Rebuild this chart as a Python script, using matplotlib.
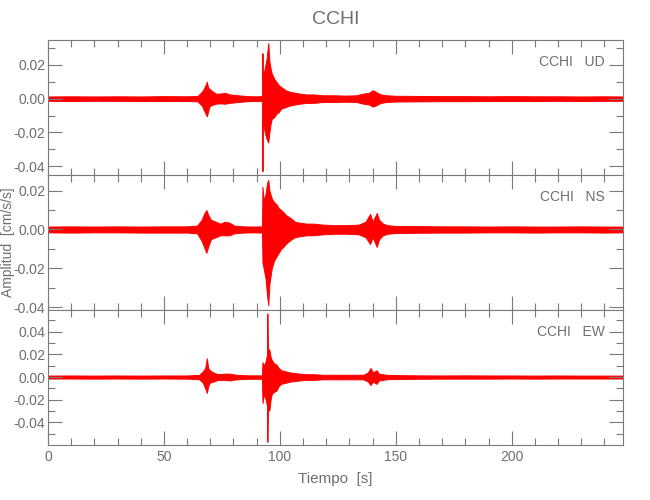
import numpy as np
import matplotlib
matplotlib.use("Agg")
import matplotlib.pyplot as plt
from matplotlib.ticker import MultipleLocator, FormatStrFormatter

station = "CCHI"
components = ["UD", "NS", "EW"]

# envelope of each trace (time [s], upper and lower amplitude [cm/s/s])
ud_t = [0, 10, 20, 30, 40, 50, 60, 64.5, 66.3, 67.3, 68.5, 69, 69.5, 70.3, 72.3, 74.3, 76.3,
        78.3, 82, 86, 90, 92.3, 92.5, 92.65, 92.9, 93.5, 94.3, 95.0, 95.5, 96, 96.5, 97.5,
        98.5, 99.5, 100.5, 102.5, 104.5, 106.5, 108.5, 111.5, 114.5, 118.5, 123.5, 128.5,
        133, 136, 138.5, 140, 141.5, 143.5, 146, 150, 160, 170, 180, 190, 200, 210, 220,
        230, 240, 248]
ud_hi = [0.0013, 0.0014, 0.0013, 0.0014, 0.0013, 0.0015, 0.0014, 0.0016, 0.004, 0.006, 0.010,
         0.007, 0.006, 0.005, 0.003, 0.003, 0.0035, 0.0025, 0.002, 0.0015, 0.0014,
         0.0015, 0.027, 0.010, 0.014, 0.018, 0.024, 0.033, 0.022, 0.018, 0.015, 0.012, 0.010,
         0.008, 0.007, 0.005, 0.004, 0.0035, 0.003, 0.0025, 0.0025, 0.002, 0.002, 0.0018,
         0.002, 0.003, 0.0035, 0.005, 0.004, 0.0025, 0.002, 0.0017, 0.0016, 0.0015, 0.0015,
         0.0014, 0.0015, 0.0014, 0.0014, 0.0013, 0.0014, 0.0013]
ud_lo = [-0.0013, -0.0014, -0.0013, -0.0013, -0.0014, -0.0014, -0.0014, -0.0016, -0.004, -0.007,
         -0.0105, -0.008, -0.005, -0.004, -0.003, -0.0028, -0.003, -0.0025, -0.002, -0.0015,
         -0.0014, -0.0015, -0.043, -0.012, -0.015, -0.020, -0.024, -0.026, -0.020, -0.015,
         -0.012, -0.011, -0.009, -0.008, -0.006, -0.005, -0.004, -0.0035, -0.003, -0.0025,
         -0.0025, -0.002, -0.002, -0.0018, -0.002, -0.003, -0.0035, -0.0047, -0.004, -0.0025,
         -0.002, -0.0017, -0.0016, -0.0015, -0.0015, -0.0014, -0.0014, -0.0014, -0.0013,
         -0.0014, -0.0013, -0.0013]

ns_t = [0, 10, 20, 30, 40, 50, 60, 64.3, 66.3, 67.3, 68.3, 69.3, 70.3, 72.3, 74.3, 76.3,
        78.3, 80.3, 84.3, 88.3, 92.3, 92.5, 93, 93.8, 94.5, 95, 95.5, 96.5, 97.5, 98.5, 99.5,
        100.5, 101.5, 102.5, 104.5, 106.5, 108.5, 111.5, 114.5, 118.5, 123.5, 128.5, 134,
        137, 138.9, 140, 141.8, 142.8, 144.5, 146.5, 150, 160, 170, 180, 190, 200, 210, 220,
        230, 240, 248]
ns_hi = [0.0015, 0.0016, 0.0015, 0.0016, 0.0015, 0.0016, 0.0016, 0.002, 0.005, 0.008, 0.010,
         0.007, 0.005, 0.004, 0.003, 0.004, 0.0035, 0.002, 0.0016, 0.0015, 0.0016, 0.022,
         0.015, 0.018, 0.024, 0.0255, 0.020, 0.016, 0.014, 0.013, 0.011, 0.010, 0.009, 0.0075,
         0.006, 0.004, 0.0035, 0.003, 0.003, 0.0025, 0.0022, 0.0022, 0.0025, 0.004, 0.008,
         0.004, 0.0085, 0.005, 0.003, 0.0022, 0.0018, 0.0017, 0.0016, 0.0016, 0.0015, 0.0016,
         0.0015, 0.0015, 0.0016, 0.0015, 0.0015]
ns_lo = [-0.0015, -0.0016, -0.0015, -0.0015, -0.0016, -0.0016, -0.0016, -0.002, -0.006, -0.009,
         -0.012, -0.008, -0.005, -0.004, -0.003, -0.003, -0.003, -0.002, -0.0016, -0.0015,
         -0.0016, -0.017, -0.020, -0.025, -0.034, -0.039, -0.028, -0.020, -0.016, -0.014,
         -0.012, -0.010, -0.009, -0.0075, -0.0055, -0.004, -0.0035, -0.003, -0.003, -0.0025,
         -0.0022, -0.0022, -0.0025, -0.004, -0.0075, -0.004, -0.009, -0.005, -0.003, -0.0022,
         -0.0018, -0.0017, -0.0016, -0.0016, -0.0015, -0.0015, -0.0016, -0.0015, -0.0015,
         -0.0016, -0.0015]

ew_t = [0, 10, 20, 30, 40, 50, 60, 65.3, 66.8, 67.8, 68.5, 69.1, 69.8, 71.3, 73.3, 76.3,
        78.3, 81.3, 86.3, 92.3, 92.5, 93.1, 93.9, 94.45, 94.6, 94.85, 95.5, 96, 96.5, 97.5,
        98.5, 99.5, 100.5, 102.5, 104.5, 106.5, 108.5, 111.5, 114.5, 118.5, 128.5, 136, 138,
        139.1, 140.2, 141.7, 142.7, 146, 150, 160, 170, 180, 190, 200, 210, 220, 230, 240, 248]
ew_hi = [0.0013, 0.0014, 0.0013, 0.0014, 0.0013, 0.0014, 0.0014, 0.002, 0.005, 0.008, 0.0165,
         0.008, 0.006, 0.004, 0.0025, 0.003, 0.003, 0.002, 0.0015, 0.0015, 0.013, 0.010,
         0.014, 0.020, 0.056, 0.025, 0.024, 0.018, 0.015, 0.012, 0.011, 0.008, 0.006, 0.005,
         0.004, 0.0035, 0.003, 0.0025, 0.0025, 0.002, 0.002, 0.002, 0.004, 0.008, 0.004,
         0.006, 0.003, 0.002, 0.0017, 0.0015, 0.0014, 0.0015, 0.0014, 0.0014, 0.0013, 0.0014,
         0.0013, 0.0013, 0.0013]
ew_lo = [-0.0013, -0.0013, -0.0014, -0.0013, -0.0014, -0.0013, -0.0014, -0.002, -0.005, -0.010,
         -0.014, -0.008, -0.005, -0.004, -0.0025, -0.0025, -0.003, -0.002, -0.0015, -0.0015,
         -0.023, -0.015, -0.020, -0.025, -0.057, -0.030, -0.029, -0.020, -0.015, -0.013,
         -0.012, -0.008, -0.006, -0.005, -0.004, -0.0035, -0.003, -0.0025, -0.0025, -0.002,
         -0.002, -0.002, -0.004, -0.007, -0.004, -0.006, -0.003, -0.002, -0.0017, -0.0015,
         -0.0014, -0.0014, -0.0014, -0.0013, -0.0014, -0.0013, -0.0013, -0.0013, -0.0013]

traces = [(ud_t, ud_hi, ud_lo), (ns_t, ns_hi, ns_lo), (ew_t, ew_hi, ew_lo)]
ylims = [(-0.0453, 0.0348), (-0.0414, 0.0280), (-0.0598, 0.0590)]
xmax = 248

grey = "#7a7a7a"
txt = "#6e6e6e"
plt.rcParams["font.family"] = ["Liberation Sans", "DejaVu Sans"]
plt.rcParams["axes.unicode_minus"] = False

fig = plt.figure(figsize=(6.5, 5), dpi=100)
fig.patch.set_facecolor("white")

L, W, H = 48 / 650, 575 / 650, 135 / 500
bottoms = [1 - 175 / 500, 1 - 310 / 500, 1 - 445 / 500]

axes = []
for i, (comp, (t, hi, lo), yl) in enumerate(zip(components, traces, ylims)):
    ax = fig.add_axes([L, bottoms[i], W, H])
    ax.fill_between(t, lo, hi, color="red", lw=0.7, edgecolor="red")
    ax.set_xlim(0, xmax)
    ax.set_ylim(*yl)
    ax.xaxis.set_major_locator(MultipleLocator(50))
    ax.xaxis.set_minor_locator(MultipleLocator(10))
    ax.yaxis.set_major_locator(MultipleLocator(0.02))
    ax.yaxis.set_minor_locator(MultipleLocator(0.01))
    ax.yaxis.set_major_formatter(FormatStrFormatter("%.2f"))
    ax.tick_params(which="both", direction="in", top=True, right=True,
                   color=grey, labelcolor=txt, labelsize=10, width=0.8)
    ax.tick_params(which="major", length=10)
    ax.tick_params(which="minor", length=5)
    ax.tick_params(axis="y", pad=2)
    for s in ax.spines.values():
        s.set_color(grey)
        s.set_linewidth(0.8)
    if i < 2:
        ax.tick_params(labelbottom=False)
    ax.text(0.968, 0.835, f"{station}   {comp}", transform=ax.transAxes,
            ha="right", va="center", color=txt, fontsize=10)
    axes.append(ax)

axes[2].set_xlabel("Tiempo  [s]", color=txt, fontsize=11, labelpad=6)
fig.text(336 / 650, 1 - 20 / 500, station, ha="center", va="center", color=txt, fontsize=14)
fig.text(8 / 650, 1 - 242 / 500, "Amplitud  [cm/s/s]", rotation=90, ha="center",
         va="center", color=txt, fontsize=10)

fig.savefig("out.png", dpi=100, facecolor="white")
